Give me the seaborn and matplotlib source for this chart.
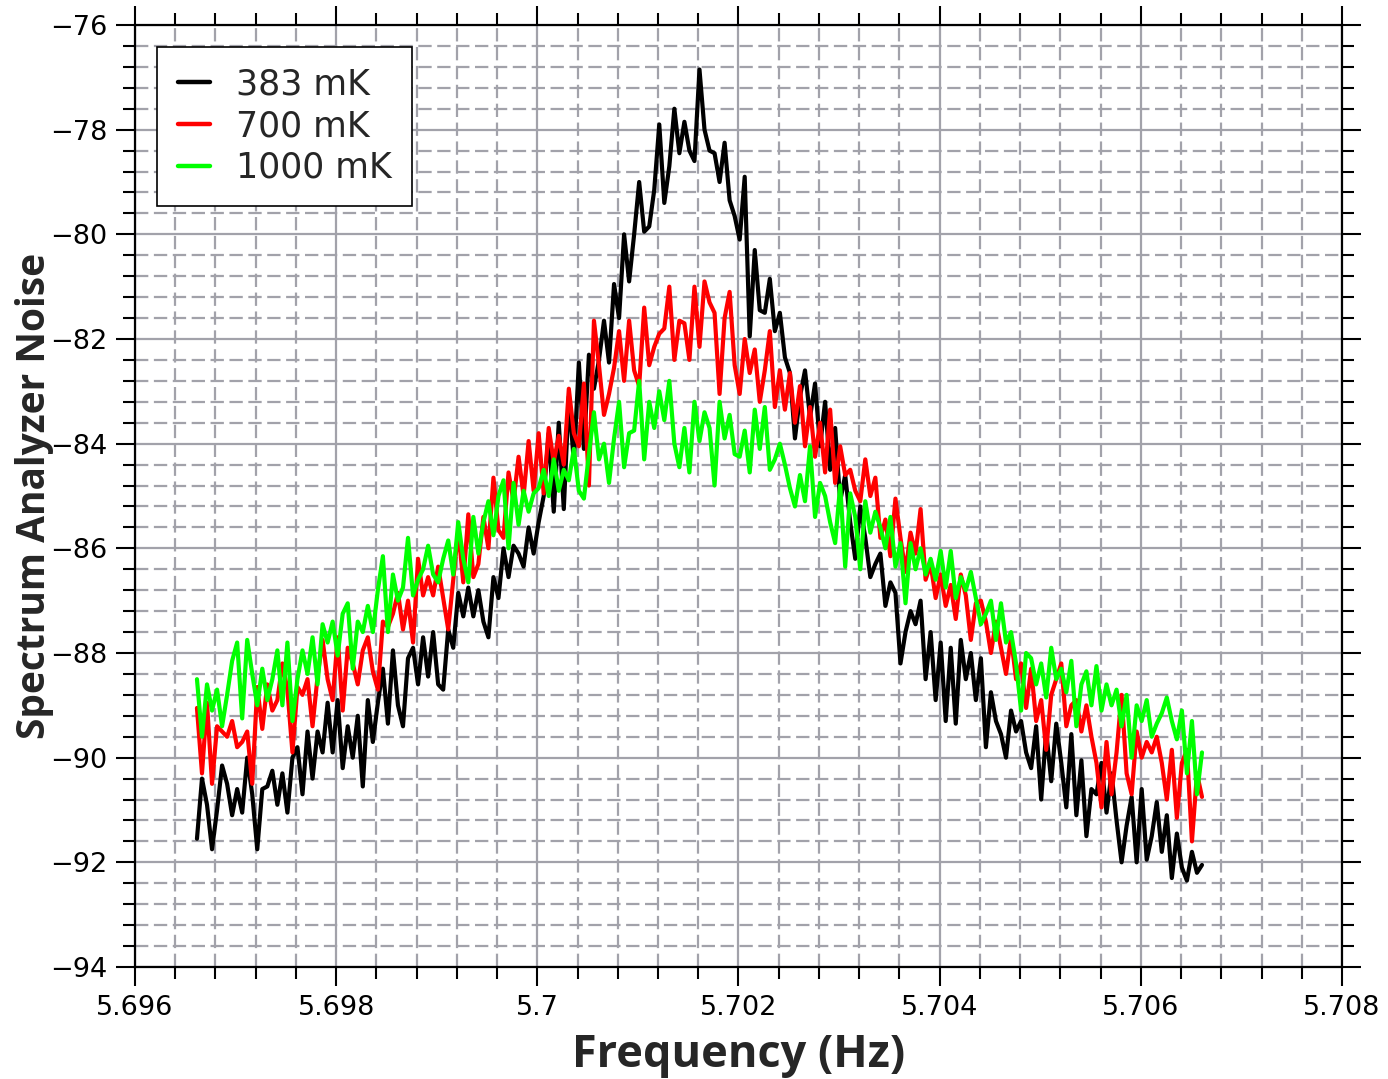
import numpy as np
import pandas as pd
import matplotlib
matplotlib.use("Agg")
import matplotlib.pyplot as plt
import seaborn as sns
from matplotlib.ticker import AutoMinorLocator, FuncFormatter

# ---------------- data ----------------
freq_start = 5.696616
freq_stop = 5.706608
n_points = 201
frequency = np.linspace(freq_start, freq_stop, n_points)

labels = ["383 mK", "700 mK", "1000 mK"]
colors = ["#000000", "#ff0000", "#00ff00"]

noise_383 = [
    -91.55, -90.4, -90.9, -91.75, -91.0, -90.15, -90.5, -91.1, -90.6, -91.05,
    -90.0, -90.7, -91.75, -90.6, -90.55, -90.25, -90.9, -90.3, -91.05, -90.0,
    -89.8, -90.7, -89.5, -90.4, -89.5, -89.9, -88.95, -89.9, -88.9, -90.2,
    -89.4, -90.0, -89.2, -90.55, -88.9, -89.7, -88.95, -88.3, -89.35, -87.95,
    -89.0, -89.4, -88.1, -87.9, -88.6, -87.7, -88.45, -87.6, -88.6, -88.7,
    -87.55, -87.9, -86.85, -87.3, -86.75, -87.3, -86.8, -87.4, -87.7, -86.55,
    -86.95, -86.0, -86.55, -85.95, -86.1, -86.35, -85.6, -86.1, -85.5, -85.0,
    -83.8, -85.3, -83.6, -85.25, -83.1, -84.35, -82.45, -84.1, -82.3, -82.95,
    -82.4, -81.65, -82.45, -80.95, -81.6, -80.0, -80.9, -80.0, -79.0, -79.95,
    -79.85, -79.15, -77.9, -79.4, -78.7, -77.6, -78.45, -77.85, -78.4, -78.6,
    -76.85, -78.0, -78.4, -78.45, -79.0, -78.25, -79.35, -79.65, -80.1, -78.9,
    -81.95, -80.3, -81.45, -81.5, -80.85, -81.85, -81.5, -82.35, -82.65, -83.9,
    -83.1, -82.6, -83.5, -82.85, -84.05, -83.2, -84.5, -83.7, -85.1, -84.6,
    -85.5, -86.2, -85.2, -85.8, -86.55, -86.3, -86.1, -87.1, -86.65, -86.85,
    -88.2, -87.6, -87.2, -87.45, -87.0, -88.5, -87.6, -88.9, -87.8, -89.3,
    -87.9, -89.35, -87.75, -88.5, -88.0, -88.9, -88.1, -89.8, -88.75, -89.3,
    -89.55, -90.0, -89.1, -89.5, -89.3, -89.9, -90.2, -89.4, -90.8, -89.5,
    -90.45, -89.35, -90.1, -90.95, -89.55, -91.1, -90.05, -91.5, -90.6, -90.7,
    -90.1, -91.05, -90.3, -91.2, -92.0, -91.3, -90.75, -92.0, -90.6, -91.95,
    -91.5, -90.85, -91.8, -91.1, -92.3, -91.45, -92.1, -92.35, -91.8, -92.2,
    -92.05,
]

noise_700 = [
    -89.05, -90.3, -88.95, -90.5, -89.4, -89.5, -89.6, -89.3, -89.8, -89.7,
    -89.5, -90.5, -88.65, -89.45, -88.6, -89.1, -88.9, -88.2, -88.7, -89.9,
    -88.65, -88.8, -88.5, -89.4, -88.45, -87.75, -88.5, -88.9, -87.7, -89.1,
    -87.9, -88.2, -88.6, -87.95, -87.7, -88.35, -88.7, -87.4, -87.5, -87.25,
    -86.85, -87.55, -87.0, -87.8, -86.2, -86.9, -86.55, -86.9, -86.35, -86.95,
    -87.55, -86.6, -85.65, -86.65, -85.35, -86.55, -86.3, -85.4, -86.0, -84.65,
    -85.65, -85.8, -84.55, -85.1, -84.25, -85.0, -83.95, -84.9, -83.8, -84.95,
    -83.7, -84.35, -83.85, -84.4, -82.95, -83.8, -84.05, -82.85, -84.8, -81.65,
    -82.5, -83.45, -83.05, -82.55, -81.85, -82.8, -81.65, -82.6, -82.9, -81.4,
    -82.5, -82.15, -81.9, -81.8, -81.0, -82.4, -81.65, -81.7, -82.4, -81.0,
    -82.15, -80.9, -81.3, -81.5, -83.05, -81.6, -81.1, -82.5, -83.05, -82.0,
    -82.65, -82.2, -83.2, -82.6, -81.85, -83.3, -82.6, -83.35, -82.65, -83.6,
    -82.9, -84.05, -83.3, -84.25, -83.6, -84.55, -83.35, -84.75, -84.05, -84.6,
    -84.5, -84.9, -85.1, -84.3, -85.0, -84.65, -85.8, -85.45, -86.15, -85.05,
    -85.8, -86.45, -85.7, -86.1, -85.25, -86.6, -86.3, -86.95, -86.5, -87.1,
    -86.7, -87.35, -86.5, -86.9, -87.75, -87.05, -87.0, -87.4, -88.0, -87.4,
    -87.9, -88.4, -87.7, -88.5, -88.2, -89.05, -88.3, -89.3, -88.9, -89.85,
    -88.8, -88.5, -88.2, -89.4, -89.0, -88.9, -89.5, -89.0, -89.6, -90.1,
    -90.95, -89.7, -90.7, -89.9, -88.8, -90.3, -90.7, -89.5, -90.0, -89.7,
    -89.9, -89.6, -90.1, -90.8, -89.85, -91.15, -90.1, -89.85, -91.6, -90.3,
    -90.75,
]

noise_1000 = [
    -88.5, -89.6, -88.6, -89.1, -88.7, -89.4, -88.8, -88.15, -87.8, -89.25,
    -87.75, -88.4, -89.0, -88.3, -88.9, -88.5, -87.95, -89.0, -87.8, -89.3,
    -88.5, -87.95, -88.4, -87.7, -88.6, -87.45, -87.8, -87.4, -88.05, -87.25,
    -87.05, -88.3, -87.4, -87.6, -87.1, -87.6, -86.8, -86.15, -87.6, -86.5,
    -87.0, -86.75, -85.8, -86.9, -86.6, -86.4, -85.95, -86.5, -86.65, -86.2,
    -85.85, -86.5, -85.5, -86.2, -86.65, -85.4, -86.1, -85.5, -85.1, -85.75,
    -85.0, -84.7, -86.0, -84.75, -85.55, -84.9, -85.3, -84.95, -84.85, -84.5,
    -85.0, -84.3, -84.9, -84.5, -84.7, -84.1, -84.9, -85.05, -84.2, -83.4,
    -84.3, -84.0, -84.75, -83.9, -83.2, -84.45, -83.8, -83.75, -82.8, -84.3,
    -83.2, -83.7, -83.0, -83.55, -82.8, -84.0, -84.45, -83.7, -84.55, -83.2,
    -83.95, -83.4, -83.7, -84.8, -83.2, -83.9, -83.45, -84.2, -84.25, -83.75,
    -84.55, -83.35, -84.1, -83.3, -84.5, -84.3, -84.0, -84.4, -84.85, -85.2,
    -84.6, -85.1, -84.05, -85.4, -84.75, -85.0, -85.5, -85.9, -84.8, -86.35,
    -84.95, -85.4, -86.4, -85.1, -85.7, -85.3, -85.6, -86.0, -85.4, -86.35,
    -85.9, -87.05, -85.9, -86.4, -86.0, -86.5, -86.2, -86.6, -86.05, -86.75,
    -86.05, -86.95, -86.55, -86.8, -86.45, -86.95, -87.45, -87.25, -87.0, -87.75,
    -87.05, -87.8, -87.6, -88.2, -89.1, -88.0, -88.1, -88.6, -88.2, -88.85,
    -87.9, -88.5, -88.3, -88.75, -88.15, -89.4, -88.6, -88.35, -89.0, -88.25,
    -89.1, -88.6, -89.0, -88.7, -89.4, -88.8, -90.0, -89.0, -89.3, -88.9,
    -89.6, -89.35, -89.15, -88.85, -89.3, -89.65, -89.1, -90.3, -89.3, -90.7,
    -89.9,
]

x_ticks = [5.696, 5.698, 5.700, 5.702, 5.704, 5.706, 5.708]
y_ticks = [-94, -92, -90, -88, -86, -84, -82, -80, -78, -76]

# ---------------- build long table ----------------
df = pd.concat([
    pd.DataFrame({"Frequency": frequency, "Noise": vals, "T": lab})
    for vals, lab in zip([noise_383, noise_700, noise_1000], labels)
], ignore_index=True)

sns.set_theme(style="white")
plt.rcParams["font.family"] = ["DejaVu Sans"]

fig = plt.figure(figsize=(13.88, 10.79), dpi=100)
ax = fig.add_axes([135 / 1388, 1 - 967 / 1079, (1342 - 135) / 1388, (967 - 25) / 1079])

sns.lineplot(data=df, x="Frequency", y="Noise", hue="T", hue_order=labels,
             palette=dict(zip(labels, colors)), estimator=None, sort=False,
             linewidth=3.0, ax=ax)

ax.set_xlim(x_ticks[0], x_ticks[-1])
ax.set_ylim(y_ticks[0], y_ticks[-1])
ax.set_xticks(x_ticks)
ax.set_yticks(y_ticks)
ax.xaxis.set_minor_locator(AutoMinorLocator(5))
ax.yaxis.set_minor_locator(AutoMinorLocator(5))

fmt = FuncFormatter(lambda v, p: ("%g" % round(v, 4)).replace("-", "\u2212"))
ax.xaxis.set_major_formatter(fmt)
ax.yaxis.set_major_formatter(fmt)

ax.set_axisbelow(True)
ax.grid(which="major", color="#a2a2aa", linewidth=1.6, linestyle="-")
ax.grid(which="minor", color="#a2a2aa", linewidth=1.6, linestyle=(0, (6, 2.5)))

for s in ax.spines.values():
    s.set_color("black")
    s.set_linewidth(1.6)

ax.tick_params(which="both", direction="out", top=True, right=True,
               bottom=True, left=True, color="black", width=1.5,
               labelsize=19.5, labelcolor="black")
ax.tick_params(which="major", length=14, pad=6)
ax.tick_params(which="minor", length=8.5)

ax.set_xlabel("Frequency (Hz)", fontsize=32.5, fontweight="bold",
              family=["Open Sans", "DejaVu Sans"], labelpad=9)
ax.set_ylabel("Spectrum Analyzer Noise", fontsize=28, fontweight="bold",
              family=["Open Sans", "DejaVu Sans"], labelpad=-3)

leg = ax.legend(loc="upper left", bbox_to_anchor=(0.018, 0.977), fontsize=25,
                frameon=True, fancybox=False, edgecolor="black", framealpha=1,
                handlelength=0.92, handletextpad=0.75, labelspacing=0.22,
                borderpad=0.6, borderaxespad=0)
leg.get_frame().set_linewidth(1.2)
for h in leg.get_lines():
    h.set_linewidth(3.2)

fig.savefig("out.png", dpi=100)
